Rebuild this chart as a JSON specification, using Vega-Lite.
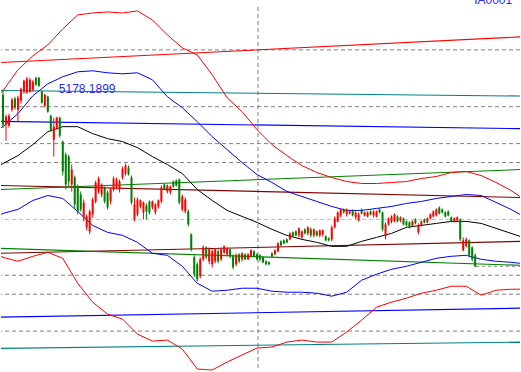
{
  "$schema": "https://vega.github.io/schema/vega-lite/v6.json",
  "width": 521,
  "height": 372,
  "padding": 0,
  "autosize": {"type": "fit", "contains": "padding"},
  "background": "white",
  "config": {"view": {"stroke": null}},
  "datasets": {
    "candles": [
      {"d":0,"o":95,"c":125,"h":90,"l":128},{"d":1,"o":125,"c":117,"h":115,"l":141},{"d":2,"o":126,"c":116,"h":114,"l":128},{"d":3,"o":110,"c":100,"h":98,"l":112},{"d":4,"o":99,"c":108,"h":97,"l":110},
      {"d":5,"o":110,"c":98,"h":96,"l":122},{"d":6,"o":101,"c":89,"h":88,"l":104},{"d":7,"o":92,"c":81,"h":80,"l":94},{"d":8,"o":93,"c":79,"h":77,"l":94},{"d":9,"o":92,"c":80,"h":78,"l":93},
      {"d":10,"o":90,"c":82,"h":80,"l":92},{"d":11,"o":78,"c":85,"h":77,"l":86},{"d":12,"o":78,"c":86,"h":77,"l":87},{"d":13,"o":92,"c":103,"h":91,"l":104},{"d":14,"o":106,"c":95,"h":94,"l":108},
      {"d":15,"o":97,"c":112,"h":96,"l":113},{"d":16,"o":116,"c":130,"h":115,"l":132},{"d":17,"o":140,"c":127,"h":118,"l":157},{"d":18,"o":128,"c":118,"h":117,"l":130},{"d":19,"o":118,"c":136,"h":117,"l":138},
      {"d":20,"o":142,"c":172,"h":141,"l":176},{"d":21,"o":155,"c":185,"h":153,"l":190},{"d":22,"o":157,"c":182,"h":155,"l":188},{"d":23,"o":185,"c":170,"h":165,"l":192},{"d":24,"o":178,"c":205,"h":176,"l":210},
      {"d":25,"o":187,"c":212,"h":185,"l":215},{"d":26,"o":195,"c":210,"h":192,"l":212},{"d":27,"o":218,"c":203,"h":200,"l":222},{"d":28,"o":228,"c":217,"h":215,"l":231},{"d":29,"o":232,"c":212,"h":210,"l":235},
      {"d":30,"o":215,"c":200,"h":198,"l":218},{"d":31,"o":202,"c":183,"h":181,"l":204},{"d":32,"o":192,"c":179,"h":177,"l":194},{"d":33,"o":195,"c":185,"h":184,"l":198},{"d":34,"o":188,"c":202,"h":187,"l":204},
      {"d":35,"o":193,"c":208,"h":191,"l":210},{"d":36,"o":202,"c":190,"h":188,"l":205},{"d":37,"o":190,"c":179,"h":177,"l":192},{"d":38,"o":188,"c":180,"h":178,"l":190},{"d":39,"o":190,"c":182,"h":180,"l":193},
      {"d":40,"o":178,"c":169,"h":167,"l":180},{"d":41,"o":174,"c":166,"h":164,"l":176},{"d":42,"o":168,"c":175,"h":166,"l":176},{"d":43,"o":178,"c":203,"h":176,"l":205},{"d":44,"o":220,"c":205,"h":198,"l":222},
      {"d":45,"o":215,"c":200,"h":198,"l":217},{"d":46,"o":207,"c":201,"h":200,"l":209},{"d":47,"o":213,"c":203,"h":202,"l":220},{"d":48,"o":206,"c":212,"h":204,"l":220},{"d":49,"o":202,"c":213,"h":201,"l":215},
      {"d":50,"o":208,"c":202,"h":201,"l":210},{"d":51,"o":213,"c":205,"h":204,"l":215},{"d":52,"o":207,"c":201,"h":200,"l":209},{"d":53,"o":202,"c":188,"h":186,"l":204},{"d":54,"o":185,"c":190,"h":184,"l":191},
      {"d":55,"o":192,"c":186,"h":185,"l":194},{"d":56,"o":193,"c":187,"h":186,"l":195},{"d":57,"o":182,"c":187,"h":181,"l":188},{"d":58,"o":181,"c":186,"h":180,"l":187},{"d":59,"o":180,"c":203,"h":179,"l":205},
      {"d":60,"o":210,"c":197,"h":195,"l":212},{"d":61,"o":212,"c":200,"h":198,"l":214},{"d":62,"o":212,"c":225,"h":210,"l":227},{"d":63,"o":235,"c":250,"h":234,"l":252},{"d":64,"o":258,"c":275,"h":256,"l":278},
      {"d":65,"o":265,"c":280,"h":263,"l":282},{"d":66,"o":277,"c":260,"h":258,"l":279},{"d":67,"o":260,"c":248,"h":246,"l":262},{"d":68,"o":248,"c":258,"h":247,"l":260},{"d":69,"o":262,"c":250,"h":248,"l":265},
      {"d":70,"o":265,"c":252,"h":250,"l":268},{"d":71,"o":262,"c":250,"h":249,"l":264},{"d":72,"o":252,"c":262,"h":250,"l":264},{"d":73,"o":260,"c":250,"h":248,"l":262},{"d":74,"o":253,"c":247,"h":246,"l":255},
      {"d":75,"o":255,"c":249,"h":248,"l":257},{"d":76,"o":250,"c":257,"h":249,"l":259},{"d":77,"o":257,"c":268,"h":255,"l":270},{"d":78,"o":265,"c":256,"h":254,"l":267},{"d":79,"o":255,"c":262,"h":254,"l":264},
      {"d":80,"o":260,"c":254,"h":253,"l":262},{"d":81,"o":255,"c":260,"h":254,"l":261},{"d":82,"o":260,"c":255,"h":254,"l":261},{"d":83,"o":257,"c":251,"h":250,"l":258},{"d":84,"o":252,"c":257,"h":251,"l":258},
      {"d":85,"o":255,"c":260,"h":254,"l":261},{"d":86,"o":256,"c":260,"h":255,"l":262},{"d":87,"o":258,"c":263,"h":257,"l":264},{"d":88,"o":262,"c":265,"h":261,"l":266},{"d":89,"o":263,"c":265,"h":262,"l":266},
      {"d":90,"o":254,"c":257,"h":253,"l":258},{"d":91,"o":255,"c":251,"h":250,"l":256},{"d":92,"o":252,"c":244,"h":243,"l":253},{"d":93,"o":242,"c":246,"h":241,"l":247},{"d":94,"o":241,"c":244,"h":240,"l":245},
      {"d":95,"o":240,"c":243,"h":239,"l":244},{"d":96,"o":240,"c":234,"h":233,"l":241},{"d":97,"o":233,"c":237,"h":232,"l":238},{"d":98,"o":232,"c":236,"h":231,"l":237},{"d":99,"o":236,"c":229,"h":228,"l":238},
      {"d":100,"o":238,"c":232,"h":231,"l":240},{"d":101,"o":230,"c":234,"h":229,"l":235},{"d":102,"o":234,"c":228,"h":227,"l":236},{"d":103,"o":230,"c":236,"h":228,"l":238},{"d":104,"o":236,"c":230,"h":229,"l":238},
      {"d":105,"o":232,"c":236,"h":231,"l":237},{"d":106,"o":236,"c":231,"h":230,"l":238},{"d":107,"o":235,"c":231,"h":230,"l":237},{"d":108,"o":237,"c":241,"h":236,"l":242},{"d":109,"o":239,"c":241,"h":238,"l":242},
      {"d":110,"o":240,"c":228,"h":226,"l":242},{"d":111,"o":228,"c":219,"h":217,"l":229},{"d":112,"o":222,"c":213,"h":212,"l":223},{"d":113,"o":216,"c":210,"h":209,"l":218},{"d":114,"o":210,"c":213,"h":209,"l":214},
      {"d":115,"o":215,"c":210,"h":209,"l":217},{"d":116,"o":214,"c":212,"h":211,"l":215},{"d":117,"o":211,"c":216,"h":210,"l":217},{"d":118,"o":218,"c":213,"h":212,"l":220},{"d":119,"o":221,"c":215,"h":213,"l":222},
      {"d":120,"o":210,"c":214,"h":209,"l":215},{"d":121,"o":216,"c":213,"h":212,"l":217},{"d":122,"o":217,"c":213,"h":212,"l":218},{"d":123,"o":212,"c":215,"h":211,"l":216},{"d":124,"o":216,"c":212,"h":211,"l":218},
      {"d":125,"o":217,"c":212,"h":211,"l":218},{"d":126,"o":210,"c":213,"h":209,"l":214},{"d":127,"o":213,"c":230,"h":212,"l":232},{"d":128,"o":237,"c":225,"h":223,"l":240},{"d":129,"o":225,"c":219,"h":218,"l":226},
      {"d":130,"o":222,"c":217,"h":216,"l":224},{"d":131,"o":222,"c":215,"h":214,"l":223},{"d":132,"o":217,"c":222,"h":216,"l":223},{"d":133,"o":221,"c":218,"h":217,"l":223},{"d":134,"o":219,"c":225,"h":218,"l":226},
      {"d":135,"o":222,"c":226,"h":221,"l":227},{"d":136,"o":223,"c":228,"h":222,"l":229},{"d":137,"o":226,"c":222,"h":221,"l":227},{"d":138,"o":220,"c":224,"h":219,"l":225},{"d":139,"o":233,"c":226,"h":224,"l":235},
      {"d":140,"o":226,"c":222,"h":221,"l":227},{"d":141,"o":220,"c":223,"h":219,"l":224},{"d":142,"o":223,"c":219,"h":218,"l":224},{"d":143,"o":219,"c":215,"h":214,"l":220},{"d":144,"o":217,"c":212,"h":211,"l":218},
      {"d":145,"o":216,"c":210,"h":209,"l":217},{"d":146,"o":208,"c":214,"h":207,"l":215},{"d":147,"o":210,"c":213,"h":209,"l":214},{"d":148,"o":213,"c":217,"h":212,"l":218},{"d":149,"o":212,"c":216,"h":211,"l":217},
      {"d":150,"o":218,"c":222,"h":217,"l":223},{"d":151,"o":222,"c":219,"h":218,"l":223},{"d":152,"o":221,"c":218,"h":217,"l":222},{"d":153,"o":220,"c":240,"h":219,"l":242},{"d":154,"o":251,"c":241,"h":238,"l":252},
      {"d":155,"o":247,"c":240,"h":238,"l":248},{"d":156,"o":241,"c":256,"h":240,"l":258},{"d":157,"o":248,"c":260,"h":247,"l":262},{"d":158,"o":256,"c":267,"h":254,"l":268}
    ],
    "bands": [
      {"d":-0.67,"ru":93,"rl":257,"bu":128,"bl":215,"m":165},
      {"d":0,"ru":91,"rl":258,"bu":127,"bl":214,"m":164},
      {"d":5,"ru":70,"rl":262,"bu":114,"bl":210,"m":156},
      {"d":10,"ru":56,"rl":257,"bu":96,"bl":201,"m":145},
      {"d":15,"ru":45,"rl":253,"bu":84,"bl":196,"m":132},
      {"d":20,"ru":29,"rl":259,"bu":77,"bl":199,"m":127},
      {"d":25,"ru":15,"rl":284,"bu":72,"bl":212,"m":127},
      {"d":30,"ru":13,"rl":303,"bu":71,"bl":226,"m":134},
      {"d":35,"ru":12,"rl":315,"bu":73,"bl":233,"m":139},
      {"d":40,"ru":13,"rl":320,"bu":74,"bl":236,"m":142},
      {"d":45,"ru":11,"rl":335,"bu":73,"bl":243,"m":148},
      {"d":50,"ru":20,"rl":342,"bu":80,"bl":254,"m":157},
      {"d":55,"ru":35,"rl":341,"bu":97,"bl":256,"m":165},
      {"d":60,"ru":48,"rl":350,"bu":108,"bl":267,"m":174},
      {"d":65,"ru":55,"rl":370,"bu":122,"bl":284,"m":190},
      {"d":70,"ru":75,"rl":371,"bu":137,"bl":292,"m":201},
      {"d":75,"ru":98,"rl":363,"bu":150,"bl":291,"m":211},
      {"d":80,"ru":112,"rl":356,"bu":163,"bl":289,"m":217},
      {"d":85,"ru":130,"rl":349,"bu":175,"bl":289,"m":223},
      {"d":90,"ru":145,"rl":348,"bu":183,"bl":292,"m":230},
      {"d":95,"ru":156,"rl":343,"bu":192,"bl":293,"m":236},
      {"d":100,"ru":166,"rl":341,"bu":197,"bl":293,"m":240},
      {"d":105,"ru":173,"rl":343,"bu":202,"bl":294,"m":243},
      {"d":110,"ru":178,"rl":343,"bu":207,"bl":297,"m":247},
      {"d":115,"ru":182,"rl":333,"bu":211,"bl":293,"m":247},
      {"d":120,"ru":184,"rl":321,"bu":211,"bl":281,"m":242},
      {"d":125,"ru":184,"rl":308,"bu":209,"bl":275,"m":238},
      {"d":130,"ru":183,"rl":303,"bu":207,"bl":270,"m":234},
      {"d":135,"ru":182,"rl":299,"bu":204,"bl":267,"m":228},
      {"d":140,"ru":179,"rl":294,"bu":202,"bl":263,"m":226},
      {"d":145,"ru":177,"rl":291,"bu":199,"bl":259,"m":224},
      {"d":150,"ru":173,"rl":287,"bu":197,"bl":257,"m":222},
      {"d":155,"ru":172,"rl":287,"bu":195,"bl":256,"m":222},
      {"d":160,"ru":176,"rl":296,"bu":196,"bl":260,"m":224},
      {"d":165,"ru":183,"rl":291,"bu":203,"bl":262,"m":229},
      {"d":170,"ru":191,"rl":290,"bu":210,"bl":263,"m":234},
      {"d":173,"ru":197,"rl":290,"bu":215,"bl":264,"m":237}
    ],
    "trends": [
      {"s":"tr","d":-0.67,"v":62.7},{"s":"tr","d":173,"v":37},
      {"s":"tt","d":-0.67,"v":90.7},{"s":"tt","d":173,"v":96.3},
      {"s":"tb","d":-0.67,"v":121.7},{"s":"tb","d":173,"v":129},
      {"s":"tg","d":-0.67,"v":190},{"s":"tg","d":173,"v":170},
      {"s":"tm","d":-0.67,"v":186},{"s":"tm","d":173,"v":198},
      {"s":"tm2","d":-0.67,"v":254},{"s":"tm2","d":173,"v":242},
      {"s":"tg2","d":-0.67,"v":249},{"s":"tg2","d":173,"v":266},
      {"s":"tb2","d":-0.67,"v":318},{"s":"tb2","d":173,"v":309},
      {"s":"tt2","d":-0.67,"v":349.3},{"s":"tt2","d":173,"v":343}
    ],
    "grid": [{"v":50},{"v":107},{"v":144},{"v":163},{"v":276},{"v":295},{"v":332}]
  },
  "layer": [
    {
      "data": {"name": "grid"},
      "mark": {"type": "rule", "color": "#808080", "strokeDash": [4, 3], "strokeWidth": 1},
      "encoding": {
        "y": {"field": "v", "type": "quantitative", "axis": null, "scale": {"domain": [372, 0], "nice": false, "zero": false}}
      }
    },
    {
      "data": {"values": [{"v": 220}]},
      "mark": {"type": "rule", "color": "#99c8f0", "strokeDash": [4, 3], "strokeWidth": 1},
      "encoding": {
        "y": {"field": "v", "type": "quantitative", "axis": null, "scale": {"domain": [372, 0], "nice": false, "zero": false}}
      }
    },
    {
      "data": {"values": [{"d": 85.33, "top": 7, "bottom": 372}]},
      "mark": {"type": "rule", "color": "#808080", "strokeDash": [4, 3], "strokeWidth": 1},
      "encoding": {
        "x": {"field": "d", "type": "quantitative", "axis": null, "scale": {"domain": [-0.6667, 173], "nice": false, "zero": false}},
        "y": {"field": "top", "type": "quantitative", "axis": null, "scale": {"domain": [372, 0], "nice": false, "zero": false}},
        "y2": {"field": "bottom"}
      }
    },
    {
      "data": {"values": [{"d": 158.3, "d2": 173, "v": 267}]},
      "mark": {"type": "rule", "color": "#808080", "strokeDash": [3, 3], "strokeWidth": 1},
      "encoding": {
        "x": {"field": "d", "type": "quantitative", "axis": null, "scale": {"domain": [-0.6667, 173], "nice": false, "zero": false}},
        "x2": {"field": "d2"},
        "y": {"field": "v", "type": "quantitative", "axis": null, "scale": {"domain": [372, 0], "nice": false, "zero": false}}
      }
    },
    {
      "data": {"name": "trends"},
      "mark": {"type": "line", "strokeWidth": 1.1, "clip": true},
      "encoding": {
        "x": {"field": "d", "type": "quantitative", "axis": null, "scale": {"domain": [-0.6667, 173], "nice": false, "zero": false}},
        "y": {"field": "v", "type": "quantitative", "axis": null, "scale": {"domain": [372, 0], "nice": false, "zero": false}},
        "color": {"field": "s", "type": "nominal", "legend": null,
          "scale": {"domain": ["tr","tt","tb","tg","tm","tm2","tg2","tb2","tt2","ru","rl","bu","bl","m"],
                    "range": ["#ff0000","#008080","#0000ff","#008000","#800000","#800000","#008000","#0000ff","#008080","#ff0000","#ff0000","#0000ff","#0000ff","#000000"]}},
        "detail": {"field": "s"}
      }
    },
    {
      "data": {"name": "bands"},
      "transform": [{"fold": ["ru", "rl", "bu", "bl", "m"], "as": ["s", "v"]}],
      "mark": {"type": "line", "strokeWidth": 1, "clip": true},
      "encoding": {
        "x": {"field": "d", "type": "quantitative", "axis": null, "scale": {"domain": [-0.6667, 173], "nice": false, "zero": false}},
        "y": {"field": "v", "type": "quantitative", "axis": null, "scale": {"domain": [372, 0], "nice": false, "zero": false}},
        "color": {"field": "s", "type": "nominal", "legend": null,
          "scale": {"domain": ["tr","tt","tb","tg","tm","tm2","tg2","tb2","tt2","ru","rl","bu","bl","m"],
                    "range": ["#ff0000","#008080","#0000ff","#008000","#800000","#800000","#008000","#0000ff","#008080","#ff0000","#ff0000","#0000ff","#0000ff","#000000"]}},
        "detail": {"field": "s"}
      }
    },
    {
      "data": {"name": "candles"},
      "mark": {"type": "rule", "strokeWidth": 1},
      "encoding": {
        "x": {"field": "d", "type": "quantitative", "axis": null, "scale": {"domain": [-0.6667, 173], "nice": false, "zero": false}},
        "y": {"field": "h", "type": "quantitative", "axis": null, "scale": {"domain": [372, 0], "nice": false, "zero": false}},
        "y2": {"field": "l"},
        "stroke": {"condition": {"test": "datum.c < datum.o", "value": "#ff0000"}, "value": "#008000"}
      }
    },
    {
      "data": {"name": "candles"},
      "mark": {"type": "rule", "strokeWidth": 2},
      "encoding": {
        "x": {"field": "d", "type": "quantitative", "axis": null, "scale": {"domain": [-0.6667, 173], "nice": false, "zero": false}},
        "y": {"field": "o", "type": "quantitative", "axis": null, "scale": {"domain": [372, 0], "nice": false, "zero": false}},
        "y2": {"field": "c"},
        "stroke": {"condition": {"test": "datum.c < datum.o", "value": "#ff0000"}, "value": "#008000"}
      }
    },
    {
      "data": {"values": [{"d": 18.67, "v": 93, "t": "5178.1899"}, {"d": 157.67, "v": 4.5, "t": "IA0001"}]},
      "mark": {"type": "text", "align": "left", "baseline": "alphabetic", "font": "Liberation Sans", "fontSize": 12, "color": "#2a2aff", "clip": true},
      "encoding": {
        "x": {"field": "d", "type": "quantitative", "axis": null, "scale": {"domain": [-0.6667, 173], "nice": false, "zero": false}},
        "y": {"field": "v", "type": "quantitative", "axis": null, "scale": {"domain": [372, 0], "nice": false, "zero": false}},
        "text": {"field": "t"}
      }
    }
  ]
}
